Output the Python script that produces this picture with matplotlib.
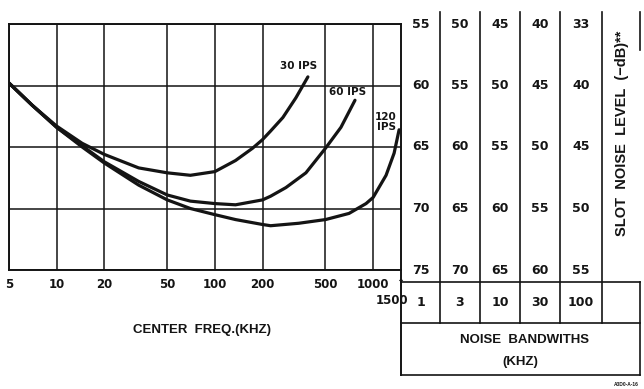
import numpy as np
import matplotlib
matplotlib.use('Agg')
import matplotlib.pyplot as plt
from matplotlib.transforms import blended_transform_factory

# slot noise level (-dB, 1 kHz bandwidth) vs center frequency (kHz)
freq_30 = [5, 7, 10, 14.5, 20, 33, 50, 70, 100, 135, 173, 200, 225, 269, 325, 387]
level_30 = [59.8, 61.6, 63.3, 64.7, 65.6, 66.7, 67.1, 67.3, 67.0, 66.1, 65.1, 64.4, 63.7, 62.6, 61.0, 59.3]

freq_60 = [5, 7, 10, 14.5, 20, 33, 50, 70, 100, 135, 200, 225, 281, 376, 500, 626, 768]
level_60 = [59.8, 61.6, 63.4, 64.9, 66.2, 67.8, 68.9, 69.4, 69.6, 69.7, 69.3, 69.0, 68.3, 67.1, 65.1, 63.4, 61.2]

freq_120 = [5, 7, 10, 14.5, 20, 33, 50, 70, 100, 135, 200, 225, 339, 500, 704, 902, 1000, 1207, 1357, 1459]
level_120 = [59.8, 61.6, 63.4, 65.0, 66.3, 68.1, 69.3, 70.0, 70.5, 70.9, 71.3, 71.4, 71.2, 70.9, 70.4, 69.6,
             69.1, 67.3, 65.5, 63.6]

freq_ticks = [5, 10, 20, 50, 100, 200, 500, 1000]
freq_labels = ['5', '10', '20', '50', '100', '200', '500', '1000']

# noise level table: one column per noise bandwidth
bandwidths = ['1', '3', '10', '30', '100']
levels_1k = [55, 60, 65, 70, 75]
levels_3k = [50, 55, 60, 65, 70]
levels_10k = [45, 50, 55, 60, 65]
levels_30k = [40, 45, 50, 55, 60]
levels_100k = ['33', '40', '45', '50', '55']

ink = '#141414'
num_font = ['Liberation Sans Narrow', 'DejaVu Sans']
lab_font = ['Liberation Sans', 'DejaVu Sans']

W, H = 644, 389
fig = plt.figure(figsize=(W / 100, H / 100), dpi=100)

# overlay in pixel coords for the table and free text
ov = fig.add_axes([0, 0, 1, 1])
ov.set_xlim(0, W)
ov.set_ylim(H, 0)
ov.axis('off')

# main chart
x0, x1, y0, y1 = 9, 401, 24, 270
ax = fig.add_axes([x0 / W, 1 - y1 / H, (x1 - x0) / W, (y1 - y0) / H])
ax.set_xscale('log')
ax.set_xlim(5, 1500)
ax.set_ylim(75, 55)
ax.set_xticks(freq_ticks)
ax.set_xticklabels(freq_labels)
ax.xaxis.set_minor_locator(matplotlib.ticker.NullLocator())
ax.set_yticks(levels_1k)
ax.set_yticklabels([])
ax.tick_params(length=0, pad=6)
for lab in ax.get_xticklabels():
    lab.set_fontfamily(num_font)
    lab.set_fontweight('bold')
    lab.set_fontsize(8.5)
    lab.set_color(ink)
ax.grid(True, color=ink, linewidth=1.1)
for s in ax.spines.values():
    s.set_color(ink)
    s.set_linewidth(1.4)
ax.patch.set_alpha(0)

for f, l in [(freq_30, level_30), (freq_60, level_60), (freq_120, level_120)]:
    ax.plot(f, l, color=ink, linewidth=2.3, solid_capstyle='round', solid_joinstyle='round')

ax.text(339, 58.4, '30 IPS', fontsize=7.5, fontweight='bold', family=num_font, ha='center', va='center', color=ink)
ax.text(693, 60.5, '60 IPS', fontsize=7.5, fontweight='bold', family=num_font, ha='center', va='center', color=ink)
ax.text(1207, 63.0, '120\nIPS', fontsize=7.5, fontweight='bold', family=num_font, ha='center', va='center',
        color=ink, linespacing=1.0)

# 1500 end mark
ov.text(401, 283, '\u2191', fontsize=7, ha='center', va='center', color=ink)
ov.text(392, 300, '1500', fontsize=8.5, fontweight='bold', family=num_font, ha='center', va='center', color=ink)
ov.text(202, 330, 'CENTER  FREQ.(KHZ)', fontsize=9.5, fontweight='bold', family=lab_font, ha='center',
        va='center', color=ink)

# table grid
lw = 1.2
col_edges = [401, 440, 480, 520, 560, 602, 640]
for xe in col_edges[1:6]:
    ov.plot([xe, xe], [12, 323], color=ink, linewidth=lw)
ov.plot([401, 401], [270, 375], color=ink, linewidth=1.4)
ov.plot([640, 640], [282, 375], color=ink, linewidth=lw)
ov.plot([640, 640], [12, 50], color=ink, linewidth=lw)
for ye in [282, 323, 375]:
    ov.plot([401, 640], [ye, ye], color=ink, linewidth=lw)

# table values, rows aligned with the chart grid
trans = blended_transform_factory(ov.transData, ax.transData)
columns = [levels_1k, levels_3k, levels_10k, levels_30k, levels_100k]
for i, col in enumerate(columns):
    cx = (col_edges[i] + col_edges[i + 1]) / 2
    for row, val in zip(levels_1k, col):
        ov.text(cx, row, str(val), transform=trans, fontsize=9, fontweight='bold', family=num_font,
                ha='center', va='center', color=ink)
    ov.text(cx, 303, bandwidths[i], fontsize=9, fontweight='bold', family=num_font,
            ha='center', va='center', color=ink)

ov.text(622, 133, 'SLOT  NOISE  LEVEL  (\u2212dB)**', rotation=90, fontsize=10.5, fontweight='bold',
        family=lab_font, ha='center', va='center', color=ink)
ov.text(525, 340, 'NOISE  BANDWITHS', fontsize=9.5, fontweight='bold', family=lab_font, ha='center',
        va='center', color=ink)
ov.text(520, 362, '(KHZ)', fontsize=9.5, fontweight='bold', family=lab_font, ha='center', va='center', color=ink)
ov.text(626, 385, 'A3D0-A-16', fontsize=3.5, fontweight='bold', family=lab_font, ha='center', va='center',
        color=ink)

fig.savefig('out.png', dpi=100)
